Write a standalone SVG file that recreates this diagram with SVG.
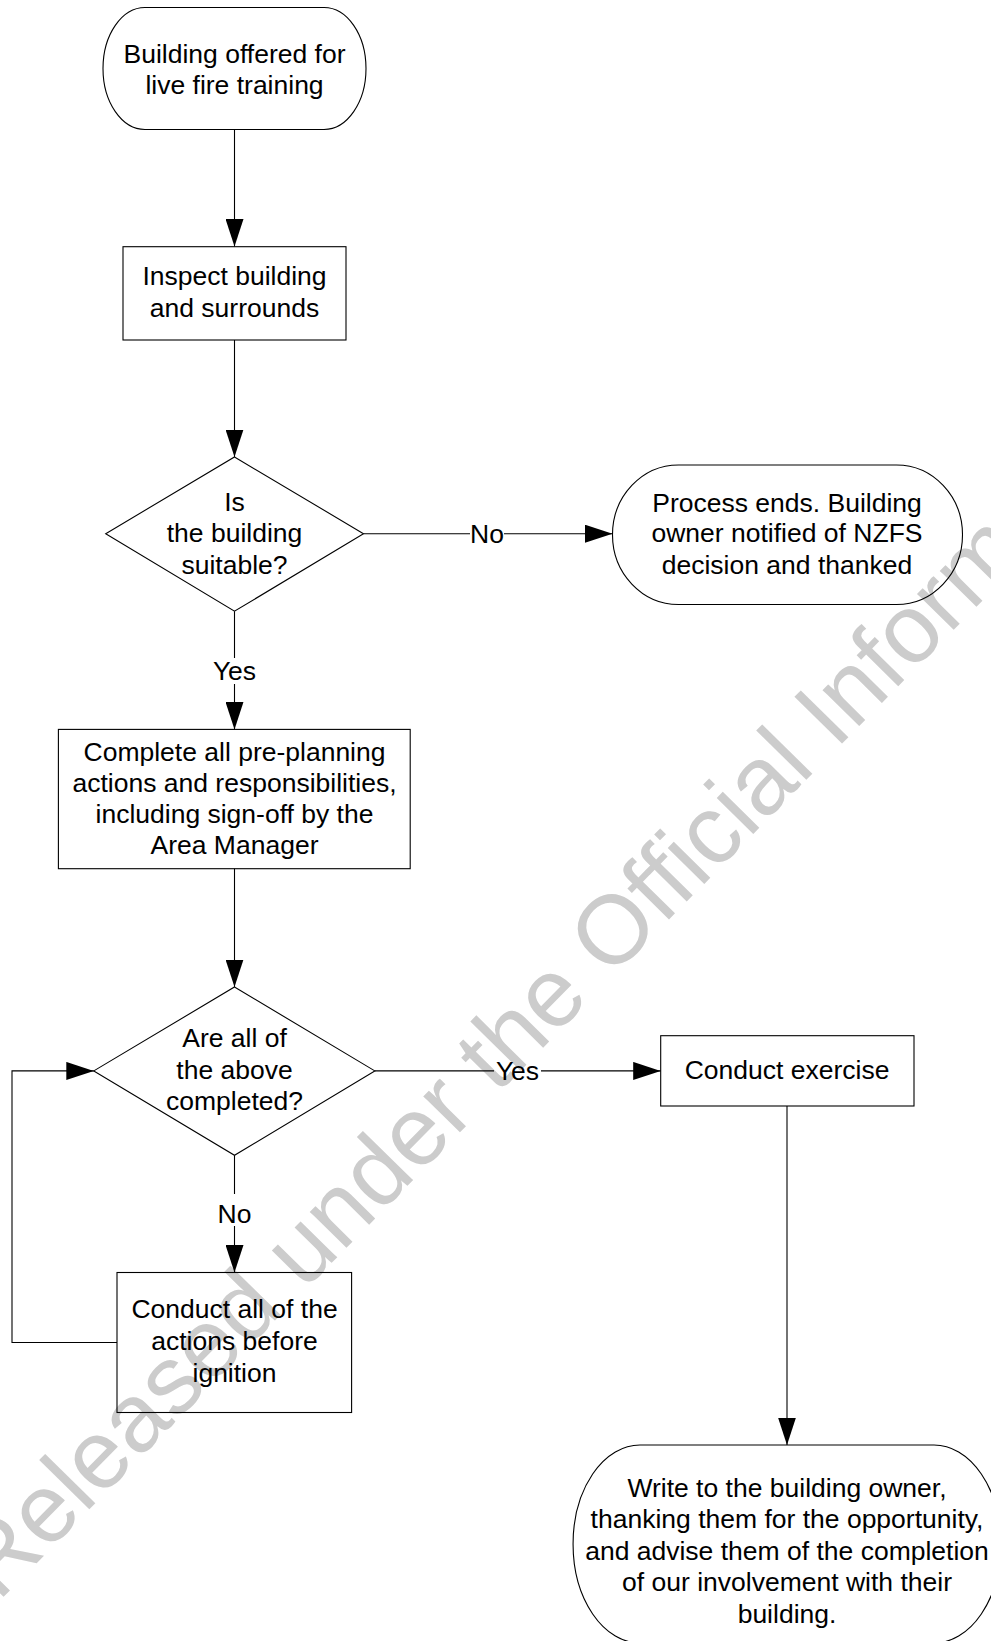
<svg xmlns="http://www.w3.org/2000/svg" width="991" height="1641" viewBox="0 0 991 1641">
<style>
.shape{fill:none;stroke:#000;stroke-width:1.1}
.conn{fill:none;stroke:#000;stroke-width:1.1}
text{font-family:"Liberation Sans",Arial,sans-serif;font-size:26.5px;fill:#000;text-anchor:middle}
.wm{font-size:97px;fill:#cccccc;text-anchor:start}
</style>
<defs>
<marker id="arr" markerUnits="userSpaceOnUse" markerWidth="28" markerHeight="18" refX="27.5" refY="9" orient="auto">
<path d="M0,0 L27.5,9 L0,18 Z" fill="#000"/>
</marker>
</defs>
<rect width="991" height="1641" fill="#fff"/>
<text class="wm" transform="translate(-2.1,1602.5) rotate(-45.5)">Released under the Official Information Act</text>
<g id="connectors">
<path class="conn" d="M234.5,129.5 V246.5" marker-end="url(#arr)"/>
<path class="conn" d="M234.5,340 V457" marker-end="url(#arr)"/>
<path class="conn" d="M363.5,533.7 H470"/>
<path class="conn" d="M504,533.7 H612.5" marker-end="url(#arr)"/>
<text x="487" y="543">No</text>
<path class="conn" d="M234.5,611.2 V658"/>
<path class="conn" d="M234.5,684 V729.4" marker-end="url(#arr)"/>
<text x="234.5" y="679.5">Yes</text>
<path class="conn" d="M234.5,868.7 V987" marker-end="url(#arr)"/>
<path class="conn" d="M374.8,1070.9 H494"/>
<path class="conn" d="M541,1070.9 H660.7" marker-end="url(#arr)"/>
<text x="517.5" y="1079.5">Yes</text>
<path class="conn" d="M234.5,1155.3 V1194"/>
<path class="conn" d="M234.5,1226 V1272.5" marker-end="url(#arr)"/>
<text x="234.5" y="1223">No</text>
<path class="conn" d="M117,1342.5 H12 V1070.9 H93.8" marker-end="url(#arr)"/>
<path class="conn" d="M787,1106 V1445" marker-end="url(#arr)"/>
</g>
<g id="start">
<path class="shape" d="M145,7.5 H324 A42,61 0 0 1 324,129.5 H145 A42,61 0 0 1 145,7.5 Z"/>
<text x="234.5" y="63.3">Building offered for</text>
<text x="234.5" y="94.3">live fire training</text>
</g>
<g id="inspect">
<rect class="shape" x="123" y="246.7" width="223" height="93.3"/>
<text x="234.5" y="285">Inspect building</text>
<text x="234.5" y="317">and surrounds</text>
</g>
<g id="suitable">
<path class="shape" d="M234.5,457 L363.5,533.7 L234.5,611.2 L105.7,533.7 Z"/>
<text x="234.5" y="511">Is</text>
<text x="234.5" y="542">the building</text>
<text x="234.5" y="573.5">suitable?</text>
</g>
<g id="process-ends">
<path class="shape" d="M678.5,465 H896.5 A66,69.75 0 0 1 896.5,604.5 H678.5 A66,69.75 0 0 1 678.5,465 Z"/>
<text x="787" y="511.5">Process ends. Building</text>
<text x="787" y="542">owner notified of NZFS</text>
<text x="787" y="573.5">decision and thanked</text>
</g>
<g id="preplanning">
<rect class="shape" x="58.4" y="729.4" width="351.8" height="139.3"/>
<text x="234.5" y="760.5">Complete all pre-planning</text>
<text x="234.5" y="791.5">actions and responsibilities,</text>
<text x="234.5" y="822.8">including sign-off by the</text>
<text x="234.5" y="854">Area Manager</text>
</g>
<g id="completed">
<path class="shape" d="M234.5,987 L374.8,1070.9 L234.5,1155.3 L93.8,1070.9 Z"/>
<text x="234.5" y="1047">Are all of</text>
<text x="234.5" y="1078.5">the above</text>
<text x="234.5" y="1110">completed?</text>
</g>
<g id="conduct-exercise">
<rect class="shape" x="660.7" y="1035.7" width="253.3" height="70.3"/>
<text x="787" y="1079.3">Conduct exercise</text>
</g>
<g id="conduct-actions">
<rect class="shape" x="117" y="1272.5" width="234.6" height="140"/>
<text x="234.5" y="1318.3">Conduct all of the</text>
<text x="234.5" y="1350">actions before</text>
<text x="234.5" y="1381.7">ignition</text>
</g>
<g id="write-owner">
<path class="shape" d="M640,1445 H934 A67,99 0 0 1 934,1643 H640 A67,99 0 0 1 640,1445 Z"/>
<text x="787" y="1496.5">Write to the building owner,</text>
<text x="787" y="1528">thanking them for the opportunity,</text>
<text x="787" y="1559.5">and advise them of the completion</text>
<text x="787" y="1591">of our involvement with their</text>
<text x="787" y="1622.5">building.</text>
</g>
</svg>
